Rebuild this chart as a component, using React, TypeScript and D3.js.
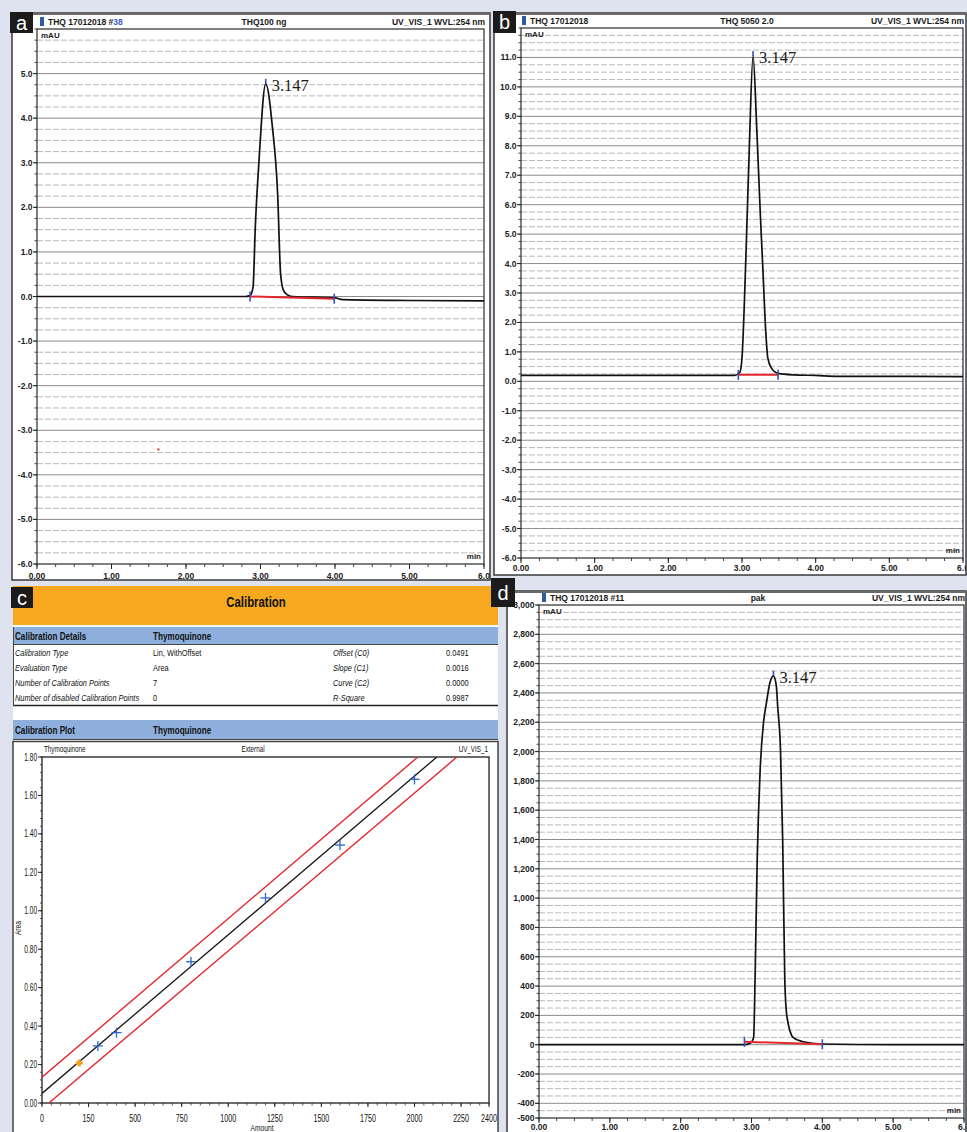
import React from 'react';
import * as d3 from 'd3';

type Pt = [number, number];
interface Box { x: number; y: number; w: number; h: number }

const FONT = "'Liberation Sans', Arial, sans-serif";
const SERIF = "'Liberation Serif', 'Times New Roman', serif";
const BG = '#dfe3f0';
const BLUE = '#3450c2';
const RED = '#e3262b';

// shared retention-time axis (min)
const timeTicks = [0, 1, 2, 3, 4, 5, 6];
const timeLabels = ['0.00', '1.00', '2.00', '3.00', '4.00', '5.00', '6.0'];

// panel a : THQ100 ng
const aYTicks = [-6, -5, -4, -3, -2, -1, 0, 1, 2, 3, 4, 5];
const aYLabels = ['-6.0', '-5.0', '-4.0', '-3.0', '-2.0', '-1.0', '0.0', '1.0', '2.0', '3.0', '4.0', '5.0'];
const aTrace: Pt[] = [
  [0, 0], [1, 0], [2, 0], [2.8, 0], [2.86, 0.02], [2.9, 0.21], [2.93, 1.55], [2.98, 3.05], [3.07, 4.77],
  [3.16, 3.8], [3.23, 2.3], [3.27, 0.5], [3.31, 0.13], [3.36, 0.04], [3.43, 0], [4.0, -0.03], [4.1, -0.07],
  [5.0, -0.09], [6.0, -0.1],
];
const aInteg: Pt[] = [[2.86, 0], [3.99, -0.05]];
const aApex: Pt = [3.07, 4.77];
const aArtifact: Pt = [1.63, -3.43];

// panel b : THQ 5050 2.0
const bYTicks = [-6, -5, -4, -3, -2, -1, 0, 1, 2, 3, 4, 5, 6, 7, 8, 9, 10, 11];
const bYLabels = ['-6.0', '-5.0', '-4.0', '-3.0', '-2.0', '-1.0', '0.0', '1.0', '2.0', '3.0', '4.0', '5.0',
  '6.0', '7.0', '8.0', '9.0', '10.0', '11.0'];
const bTrace: Pt[] = [
  [0, 0.2], [1, 0.2], [2, 0.2], [2.9, 0.2], [2.97, 0.3], [3.0, 0.8], [3.05, 4.0], [3.1, 8.0], [3.15, 11.05],
  [3.2, 8.6], [3.25, 5.6], [3.28, 4.0], [3.32, 1.8], [3.35, 0.8], [3.4, 0.45], [3.49, 0.27], [3.7, 0.22],
  [4.0, 0.2], [4.3, 0.17], [5.0, 0.17], [6.0, 0.16],
];
const bInteg: Pt[] = [[2.95, 0.22], [3.49, 0.22]];
const bApex: Pt = [3.15, 11.05];

// panel d : pak
const dYTicks = [-500, -400, -200, 0, 200, 400, 600, 800, 1000, 1200, 1400, 1600, 1800, 2000, 2200, 2400, 2600, 2800, 3000];
const dYLabels = ['-500', '-400', '-200', '0', '200', '400', '600', '800', '1,000', '1,200', '1,400', '1,600',
  '1,800', '2,000', '2,200', '2,400', '2,600', '2,800', '3,000'];
const dTrace: Pt[] = [
  [0, 0], [2, 0], [2.9, 0], [2.98, 10], [3.03, 48], [3.05, 443], [3.08, 1250], [3.12, 1850], [3.17, 2200],
  [3.21, 2330], [3.26, 2470], [3.31, 2517], [3.35, 2450], [3.37, 2307], [3.41, 2000], [3.44, 1400],
  [3.47, 443], [3.5, 193], [3.59, 48], [3.73, 20], [4.0, 5], [5, 0], [6, 0],
];
const dInteg: Pt[] = [[2.9, 20], [4.0, 3]];
const dApex: Pt = [3.31, 2517];

// panel c : calibration
const calibRows = [
  ['Calibration Type', 'Lin, WithOffset', 'Offset (C0)', '0.0491'],
  ['Evaluation Type', 'Area', 'Slope (C1)', '0.0016'],
  ['Number of Calibration Points', '7', 'Curve (C2)', '0.0000'],
  ['Number of disabled Calibration Points', '0', 'R-Square', '0.9987'],
];
const calibAmount = [300, 400, 800, 1200, 1600, 2000];
const calibArea = [0.297, 0.366, 0.735, 1.067, 1.342, 1.684];
const disabledAmount = [200];
const disabledArea = [0.208];
const fitLine: Pt[] = [[0, 0.05], [2120, 1.8]];
const upperLine: Pt[] = [[0, 0.134], [2018, 1.8]];
const lowerLine: Pt[] = [[37, 0], [2228, 1.8]];
const amountTicks = [0, 250, 500, 750, 1000, 1250, 1500, 1750, 2000, 2250, 2400];
const amountLabels = ['0', '150', '500', '750', '1000', '1250', '1500', '1750', '2000', '2250', '2400'];
const areaTicks = [0, 0.2, 0.4, 0.6, 0.8, 1.0, 1.2, 1.4, 1.6, 1.8];
const areaLabels = ['0.00', '0.20', '0.40', '0.60', '0.80', '1.00', '1.20', '1.40', '1.60', '1.80'];

interface ChromCfg {
  id: string;
  frame: Box;
  plot: Box;
  letterBox: Box;
  letter: string;
  yDomain: [number, number];
  yTicks: number[];
  yLabels: string[];
  majorStep: number;
  minorStep: number;
  headLeft: string;
  headAccent?: string;
  headMid: string;
  headRight: string;
  headY: number;
  headLeftX: number;
  headMidX: number;
  xLabelY: number;
  trace: Pt[];
  integ: Pt[];
  apex: Pt;
  artifact?: Pt;
}

// condensed text: the original uses a narrow font, squeeze a regular one horizontally
function NText({ x, y, sx = 0.78, size = 9.5, anchor = 'start', bold = false, italic = false, children }: any) {
  return (
    <text transform={`translate(${x},${y}) scale(${sx},1)`} textAnchor={anchor} fontFamily={FONT}
      fontSize={size} fontWeight={bold ? 'bold' : 'normal'} fontStyle={italic ? 'italic' : 'normal'} fill="#111">
      {children}
    </text>
  );
}

function LetterBox({ b, letter }: { b: Box; letter: string }) {
  return (
    <g>
      <rect x={b.x} y={b.y} width={b.w} height={b.h} fill="#1b1b1b" />
      <text x={b.x + b.w / 2} y={b.y + b.h / 2 + 7} textAnchor="middle" fill="#fff"
        fontFamily={FONT} fontSize={20}>{letter}</text>
    </g>
  );
}

function Chromatogram({ c }: { c: ChromCfg }) {
  const { frame, plot } = c;
  const x = d3.scaleLinear().domain([0, 6]).range([plot.x, plot.x + plot.w]);
  const y = d3.scaleLinear().domain(c.yDomain).range([plot.y + plot.h, plot.y]);
  const onStep = (v: number, s: number) => Math.abs(v / s - Math.round(v / s)) < 1e-6;
  const grid = d3.range(c.yDomain[0] + c.minorStep, c.yDomain[1] - 1e-9, c.minorStep);
  const yMinor = d3.range(c.yDomain[0], c.yDomain[1] + 1e-9, c.minorStep);
  const xMinor = d3.range(0, 6 + 1e-9, 0.25);
  const line = d3.line<Pt>().x(d => x(d[0])).y(d => y(d[1])).curve(d3.curveMonotoneX);
  const clipId = `clip-${c.id}`;
  const [ax, ay] = [x(c.apex[0]), y(c.apex[1])];
  return (
    <g>
      <defs>
        <clipPath id={clipId}>
          <rect x={frame.x} y={frame.y} width={frame.w} height={frame.h} />
        </clipPath>
      </defs>
      <rect x={frame.x} y={frame.y} width={frame.w} height={frame.h} fill="#fff" stroke="#3a3a3a" strokeWidth={1.5} />
      <line x1={frame.x} x2={frame.x + frame.w} y1={frame.y + 1} y2={frame.y + 1} stroke="#6a6a6a" strokeWidth={2} />
      <g clipPath={`url(#${clipId})`}>
        {grid.map(v => (
          <line key={`g${v}`} x1={plot.x} x2={plot.x + plot.w} y1={y(v)} y2={y(v)}
            stroke={onStep(v, c.majorStep) ? '#8c8c8c' : '#b9b9b9'}
            strokeDasharray={onStep(v, c.majorStep) ? undefined : '6,2'} strokeWidth={1} />
        ))}
        <rect x={plot.x} y={plot.y} width={plot.w} height={plot.h} fill="none" stroke="#2b2b2b" strokeWidth={1.2} />
        {yMinor.map(v => (
          <line key={`ym${v}`} x1={plot.x - 2.5} x2={plot.x} y1={y(v)} y2={y(v)} stroke="#333" strokeWidth={0.9} />
        ))}
        {c.yTicks.map((v, i) => (
          <g key={`yt${v}`}>
            <line x1={plot.x - 4} x2={plot.x} y1={y(v)} y2={y(v)} stroke="#222" strokeWidth={1} />
            <text x={plot.x - 4.5} y={y(v) + 3} textAnchor="end" fontFamily={FONT} fontWeight="bold"
              fontSize={8.5} fill="#222">{c.yLabels[i]}</text>
          </g>
        ))}
        {xMinor.map(t => (
          <line key={`xm${t}`} x1={x(t)} x2={x(t)} y1={plot.y + plot.h} y2={plot.y + plot.h + 3} stroke="#333" strokeWidth={0.9} />
        ))}
        {timeTicks.map((t, i) => (
          <g key={`xt${t}`}>
            <line x1={x(t)} x2={x(t)} y1={plot.y + plot.h} y2={plot.y + plot.h + 5} stroke="#222" strokeWidth={1} />
            <text x={x(t)} y={c.xLabelY} textAnchor="middle" fontFamily={FONT} fontWeight="bold"
              fontSize={8.5} fill="#222">{timeLabels[i]}</text>
          </g>
        ))}
        <rect x={c.headLeftX - 8} y={c.headY - 8} width={4} height={9} fill="#2d5d9c" />
        <text x={c.headLeftX} y={c.headY} fontFamily={FONT} fontWeight="bold" fontSize={8.5} fill="#1a1a1a">
          {c.headLeft}{c.headAccent ? <tspan fill="#3b5fc4">{c.headAccent}</tspan> : null}
        </text>
        <text x={c.headMidX} y={c.headY} textAnchor="middle" fontFamily={FONT} fontWeight="bold" fontSize={8.5} fill="#1a1a1a">{c.headMid}</text>
        <text x={plot.x + plot.w + 1} y={c.headY} textAnchor="end" fontFamily={FONT} fontWeight="bold" fontSize={8.5} fill="#1a1a1a">{c.headRight}</text>
        <text x={plot.x + 4} y={plot.y + 9} fontFamily={FONT} fontWeight="bold" fontSize={8} fill="#222">mAU</text>
        <text x={plot.x + plot.w - 3} y={plot.y + plot.h - 5} textAnchor="end" fontFamily={FONT} fontWeight="bold" fontSize={8} fill="#222">min</text>
        <path d={line(c.trace) || ''} fill="none" stroke="#111" strokeWidth={1.7} strokeLinejoin="round" />
        <line x1={x(c.integ[0][0])} x2={x(c.integ[1][0])} y1={y(c.integ[0][1])} y2={y(c.integ[1][1])} stroke={RED} strokeWidth={2} />
        {c.integ.map((p, i) => (
          <line key={`it${i}`} x1={x(p[0])} x2={x(p[0])} y1={y(p[1]) - 5} y2={y(p[1]) + 5} stroke={BLUE} strokeWidth={1.6} />
        ))}
        <line x1={ax} x2={ax} y1={ay - 5} y2={ay} stroke={BLUE} strokeWidth={1.6} />
        <text x={ax + 6} y={ay + 7} fontFamily={SERIF} fontSize={16.5} fill="#1a1a1a">3.147</text>
        {c.artifact ? (
          <rect x={x(c.artifact[0]) - 1} y={y(c.artifact[1]) - 1} width={2} height={2} fill={RED} />
        ) : null}
      </g>
      <LetterBox b={c.letterBox} letter={c.letter} />
    </g>
  );
}

const panelA: ChromCfg = {
  id: 'a', frame: { x: 12, y: 13, w: 478, h: 567 }, plot: { x: 37, y: 29, w: 447, h: 535 },
  letterBox: { x: 10, y: 12, w: 23, h: 21 }, letter: 'a',
  yDomain: [-6, 6], yTicks: aYTicks, yLabels: aYLabels, majorStep: 1, minorStep: 0.25,
  headLeft: 'THQ 17012018 #', headAccent: '38', headMid: 'THQ100 ng', headRight: 'UV_VIS_1 WVL:254 nm',
  headY: 25, headLeftX: 48, headMidX: 264, xLabelY: 579,
  trace: aTrace, integ: aInteg, apex: aApex, artifact: aArtifact,
};

const panelB: ChromCfg = {
  id: 'b', frame: { x: 494, y: 13, w: 472, h: 562 }, plot: { x: 521, y: 28, w: 442, h: 530 },
  letterBox: { x: 493, y: 11, w: 23, h: 22 }, letter: 'b',
  yDomain: [-6, 12], yTicks: bYTicks, yLabels: bYLabels, majorStep: 1, minorStep: 0.25,
  headLeft: 'THQ 17012018', headMid: 'THQ 5050 2.0', headRight: 'UV_VIS_1 WVL:254 nm',
  headY: 24, headLeftX: 530, headMidX: 747, xLabelY: 571,
  trace: bTrace, integ: bInteg, apex: bApex,
};

const panelD: ChromCfg = {
  id: 'd', frame: { x: 507, y: 591, w: 459, h: 545 }, plot: { x: 539, y: 605, w: 425, h: 513 },
  letterBox: { x: 491, y: 578, w: 24, h: 29 }, letter: 'd',
  yDomain: [-500, 3000], yTicks: dYTicks, yLabels: dYLabels, majorStep: 200, minorStep: 50,
  headLeft: 'THQ 17012018 #11', headMid: 'pak', headRight: 'UV_VIS_1 WVL:254 nm',
  headY: 601, headLeftX: 550, headMidX: 758, xLabelY: 1130,
  trace: dTrace, integ: dInteg, apex: dApex,
};

function CalibrationPanel() {
  const plot: Box = { x: 42, y: 757, w: 447, h: 346 };
  const x = d3.scaleLinear().domain([0, 2400]).range([plot.x, plot.x + plot.w]);
  const y = d3.scaleLinear().domain([0, 1.8]).range([plot.y + plot.h, plot.y]);
  const line = d3.line<Pt>().x(d => x(d[0])).y(d => y(d[1]));
  const xMinor = d3.range(0, 2400 + 1e-9, 50);
  const yMinor = d3.range(0, 1.8 + 1e-9, 0.04);
  const colX = [15, 153, 333, 446];
  const rowY = [656, 671, 686, 701];
  return (
    <g>
      <defs>
        <clipPath id="clip-cal">
          <rect x={plot.x} y={plot.y} width={plot.w} height={plot.h} />
        </clipPath>
      </defs>
      <rect x={13} y={586} width={485} height={550} fill="#fff" />
      <rect x={13} y={586} width={485} height={39} fill="#f6a91f" />
      <NText x={256} y={607} size={15} sx={0.76} bold anchor="middle">Calibration</NText>
      <rect x={13} y={627} width={485} height={17} fill="#8eafdc" />
      <line x1={13} x2={498} y1={644.5} y2={644.5} stroke="#444" strokeWidth={1} />
      <NText x={colX[0]} y={640} size={11} sx={0.74} bold>Calibration Details</NText>
      <NText x={colX[1]} y={640} size={11} sx={0.74} bold>Thymoquinone</NText>
      {calibRows.map((r, i) => (
        <g key={`row${i}`}>
          <NText x={colX[0]} y={rowY[i]} italic>{r[0]}</NText>
          <NText x={colX[1]} y={rowY[i]}>{r[1]}</NText>
          <NText x={colX[2]} y={rowY[i]} italic>{r[2]}</NText>
          <NText x={colX[3]} y={rowY[i]}>{r[3]}</NText>
        </g>
      ))}
      <line x1={13} x2={498} y1={705.5} y2={705.5} stroke="#222" strokeWidth={1.5} />
      <line x1={13.5} x2={13.5} y1={627} y2={706} stroke="#444" strokeWidth={1} />
      <rect x={13} y={720} width={485} height={19} fill="#8eafdc" />
      <line x1={13} x2={498} y1={739.5} y2={739.5} stroke="#444" strokeWidth={1} />
      <NText x={colX[0]} y={734} size={11} sx={0.74} bold>Calibration Plot</NText>
      <NText x={colX[1]} y={734} size={11} sx={0.74} bold>Thymoquinone</NText>
      <rect x={13} y={741.5} width={485} height={400} fill="none" stroke="#444" strokeWidth={1.5} />

      <NText x={44} y={752} size={9} sx={0.7}>Thymoquinone</NText>
      <NText x={253} y={752} size={9} sx={0.7} anchor="middle">External</NText>
      <NText x={488} y={752} size={9} sx={0.7} anchor="end">UV_VIS_1</NText>

      <rect x={plot.x} y={plot.y} width={plot.w} height={plot.h} fill="none" stroke="#1e1e1e" strokeWidth={1.3} />
      {yMinor.map(v => (
        <line key={`cy${v}`} x1={plot.x - 2} x2={plot.x} y1={y(v)} y2={y(v)} stroke="#333" strokeWidth={0.8} />
      ))}
      {areaTicks.map((v, i) => (
        <g key={`cyt${v}`}>
          <line x1={plot.x - 4} x2={plot.x} y1={y(v)} y2={y(v)} stroke="#222" strokeWidth={1} />
          <NText x={plot.x - 5} y={y(v) + 3.5} size={10} sx={0.65} anchor="end">{areaLabels[i]}</NText>
        </g>
      ))}
      {xMinor.map(v => (
        <line key={`cx${v}`} x1={x(v)} x2={x(v)} y1={plot.y + plot.h} y2={plot.y + plot.h + 2.5} stroke="#333" strokeWidth={0.8} />
      ))}
      {amountTicks.map((v, i) => (
        <g key={`cxt${v}`}>
          <line x1={x(v)} x2={x(v)} y1={plot.y + plot.h} y2={plot.y + plot.h + 4} stroke="#222" strokeWidth={1} />
          <NText x={x(v)} y={1122} size={11.5} sx={0.62} anchor="middle">{amountLabels[i]}</NText>
        </g>
      ))}
      <NText x={262} y={1131} size={9} sx={0.75} anchor="middle">Amount</NText>
      <text transform="translate(21,928) rotate(-90) scale(0.75,1)" textAnchor="middle" fontFamily={FONT}
        fontSize={9} fill="#222">Area</text>

      <g clipPath="url(#clip-cal)">
        <path d={line(upperLine) || ''} fill="none" stroke={RED} strokeWidth={1.4} />
        <path d={line(lowerLine) || ''} fill="none" stroke={RED} strokeWidth={1.4} />
        <path d={line(fitLine) || ''} fill="none" stroke="#151515" strokeWidth={1.3} />
        {disabledAmount.map((a, i) => (
          <g key={`dp${i}`} stroke="#f0a020" strokeWidth={3}>
            <line x1={x(a) - 3.5} x2={x(a) + 3.5} y1={y(disabledArea[i])} y2={y(disabledArea[i])} />
            <line x1={x(a)} x2={x(a)} y1={y(disabledArea[i]) - 3.5} y2={y(disabledArea[i]) + 3.5} />
          </g>
        ))}
        {calibAmount.map((a, i) => (
          <g key={`cp${i}`} stroke="#2f66c8" strokeWidth={1.3}>
            <line x1={x(a) - 5} x2={x(a) + 5} y1={y(calibArea[i])} y2={y(calibArea[i])} />
            <line x1={x(a)} x2={x(a)} y1={y(calibArea[i]) - 5} y2={y(calibArea[i]) + 5} />
          </g>
        ))}
      </g>
      <LetterBox b={{ x: 11, y: 587, w: 22, h: 21 }} letter="c" />
    </g>
  );
}

export default function App() {
  return (
    <svg width={967} height={1132} viewBox="0 0 967 1132"
      style={{ position: 'absolute', left: 0, top: 0, display: 'block' }}>
      <rect x={0} y={0} width={967} height={1132} fill={BG} />
      <Chromatogram c={panelA} />
      <Chromatogram c={panelB} />
      <CalibrationPanel />
      <Chromatogram c={panelD} />
    </svg>
  );
}
